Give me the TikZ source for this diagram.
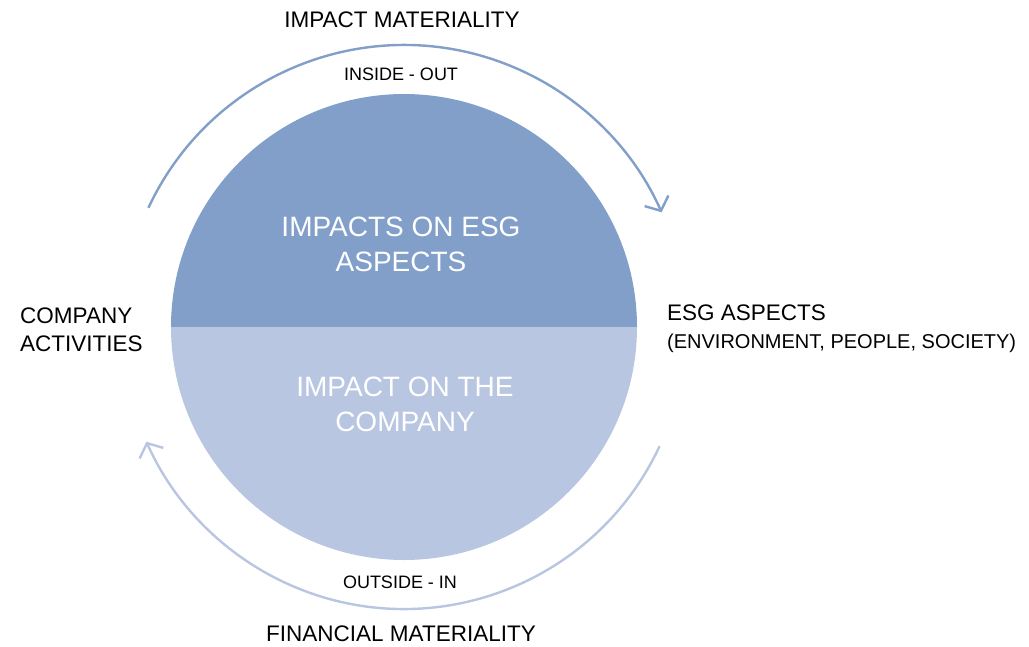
\documentclass[tikz,border=0pt]{standalone}
\usepackage{fontspec}
\setmainfont{Liberation Sans}
\usetikzlibrary{arrows.meta}
\definecolor{darkblue}{RGB}{129,159,201}
\definecolor{lightblue}{RGB}{185,198,225}
\begin{document}
\begin{tikzpicture}[x=1pt,y=1pt,
  lbl/.style={inner sep=0pt, text=black, font=\fontsize{22.5}{28}\selectfont},
  sublbl/.style={inner sep=0pt, text=black, font=\fontsize{18}{22}\selectfont},
  inlbl/.style={inner sep=0pt, text=white, align=center, font=\fontsize{28}{35}\selectfont},
  ring/.style={line width=2.4pt, -{Straight Barb[length=11pt,width=26pt,line width=2.4pt]}}]
\useasboundingbox (0,0) rectangle (1029,-646);
\coordinate (c) at (404,-327);
% half discs
\fill[darkblue] (171,-327) arc[start angle=180,end angle=0,radius=233] -- cycle;
\fill[lightblue] (637,-327) arc[start angle=0,end angle=-180,radius=233] -- cycle;
% arcs
\draw[ring, darkblue] (c) ++(155:282) arc[start angle=155,end angle=24,radius=282];
\draw[ring, lightblue] (c) ++(-25:282) arc[start angle=-25,end angle=-156,radius=282];
% labels
\node[lbl, anchor=base] (im) at (402,-27) {IMPACT MATERIALITY};
\node[sublbl, anchor=base] (io) at (401,-80) {INSIDE - OUT};
\node[inlbl, anchor=base] (ie) at (401,-271) {IMPACTS ON ESG\\ASPECTS};
\node[inlbl, anchor=base] (ic) at (405,-431) {IMPACT ON THE\\COMPANY};
\node[lbl, anchor=base west, align=left] (ca) at (20,-351) {COMPANY\\ACTIVITIES};
\node[lbl, anchor=base west] (esg) at (667,-320) {ESG ASPECTS};
\node[inner sep=0pt, anchor=base west, font=\fontsize{20}{24}\selectfont] (env) at (667,-348) {(ENVIRONMENT, PEOPLE, SOCIETY)};
\node[sublbl, anchor=base] (oi) at (400,-588) {OUTSIDE - IN};
\node[lbl, anchor=base] (fm) at (401,-641) {FINANCIAL MATERIALITY};
\end{tikzpicture}
\end{document}
